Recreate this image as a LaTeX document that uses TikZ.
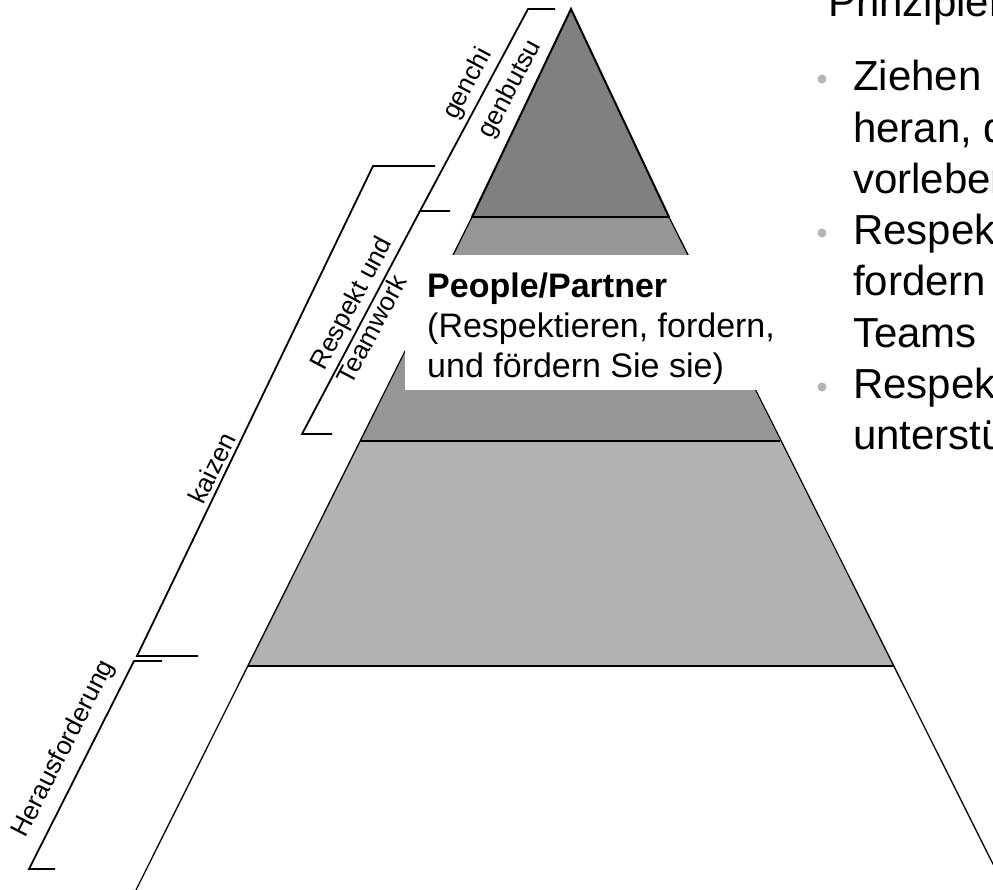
\documentclass[tikz,border=0pt]{standalone}
\usepackage{fontspec}
\setmainfont{Liberation Sans}
\usepackage{tikz}
\usetikzlibrary{positioning}
\usetikzlibrary{calc}

\definecolor{layertop}{HTML}{808080}
\definecolor{layermid}{HTML}{969696}
\definecolor{layerlow}{HTML}{B2B2B2}
\definecolor{dotgray}{HTML}{B4B4B4}

\newcommand{\brkfont}{\fontsize{26}{31}\selectfont}
\newcommand{\ppfont}{\fontsize{34}{40}\selectfont}
\newcommand{\rightfont}{\fontsize{42}{51}\selectfont}

\tikzset{
  edge/.style={line width=1.3pt},
  apexedge/.style={line width=2pt, line join=miter},
  level/.style={line width=2pt},
  bracket/.style={line width=1.8pt, line join=miter},
  sidetext/.style={font=\brkfont, inner sep=0pt, align=left},
  boxline/.style={font=\ppfont, inner sep=0pt, anchor=base west},
  listline/.style={font=\rightfont, inner sep=0pt, anchor=base west},
  bulletdot/.style={circle, fill=dotgray, minimum size=9pt, inner sep=0pt}
}

\begin{document}
\begin{tikzpicture}[x=1pt, y=-1pt]
    \useasboundingbox (0,0) rectangle (993,889);

    % pyramid corners
    \coordinate (top) at (571,9);
    \coordinate (l1) at (472,217);
    \coordinate (r1) at (669,217);
    \coordinate (l2) at (361,441);
    \coordinate (r2) at (780,441);
    \coordinate (l3) at (248,666);
    \coordinate (r3) at (893,666);
    \coordinate (l4) at (131,900);
    \coordinate (r4) at (1011,900);

    \fill[layerlow] (l2) -- (r2) -- (r3) -- (l3) -- cycle;
    \fill[layermid] (l1) -- (r1) -- (r2) -- (l2) -- cycle;
    \fill[layertop] (top) -- (r1) -- (l1) -- cycle;
    \draw[edge] (l1) -- (l4);
    \draw[edge] (r1) -- (r4);
    \draw[apexedge] (l1) -- (top) -- (r1);
    \draw[level] (l1) -- (r1);
    \draw[level] (l2) -- (r2);
    \draw[level] (l3) -- (r3);

    % white box over the middle layer
    \node (ppbox) [fill=white, inner sep=0pt, minimum width=380pt, minimum height=135pt, anchor=north west] at (405,255) {};
    \node (pp1) [boxline, font=\ppfont\bfseries] at (427,297) {People/Partner};
    \node (pp2) [boxline] at (427,337) {(Respektieren, fordern,};
    \node (pp3) [boxline] at (427,377) {und fördern Sie sie)};

    % brackets
    \coordinate (g1) at (555,9);
    \coordinate (g2) at (528,9);
    \coordinate (g3) at (420,211);
    \coordinate (g4) at (450,211);
    \coordinate (t3) at (302,434);
    \coordinate (t4) at (332,434);
    \coordinate (k1) at (435,166);
    \coordinate (k2) at (373,166);
    \coordinate (k3) at (137,656);
    \coordinate (k4) at (198,656);
    \coordinate (h1) at (162,661);
    \coordinate (h2) at (134,661);
    \coordinate (h3) at (29,869);
    \coordinate (h4) at (55,869);

    \draw[bracket] (g1) -- (g2) -- (g3) -- (g4);
    \draw[bracket] (g3) -- (t3) -- (t4);
    \draw[bracket] (k1) -- (k2) -- (k3) -- (k4);
    \draw[bracket] (h1) -- (h2) -- (h3) -- (h4);

    \node (genchi) [sidetext, rotate=62] at (493,80) {genchi\\[9pt]genbutsu};
    \node (teamwork) [sidetext, rotate=62] at (364,310) {Respekt und\\Teamwork};
    \node (kaizen) [sidetext, rotate=64] at (212,468) {kaizen};
    \node (challenge) [sidetext, rotate=63] at (64,749) {Herausforderung};

    % text on the right
    \node (head) [listline] at (828,16) {Prinzipien};
    \foreach \t [count=\i] in {Ziehen, {heran, die}, vorleben, Respekt, fordern, Teams, Respekt, unterstützen} {
      \node (line\i) [listline] at (853, {90.7+(\i-1)*51.3}) {\t};
    }
    \node (dot1) [bulletdot] at (822,79) {};
    \node (dot2) [bulletdot] at (822,233) {};
    \node (dot3) [bulletdot] at (822,387) {};
\end{tikzpicture}
\end{document}
